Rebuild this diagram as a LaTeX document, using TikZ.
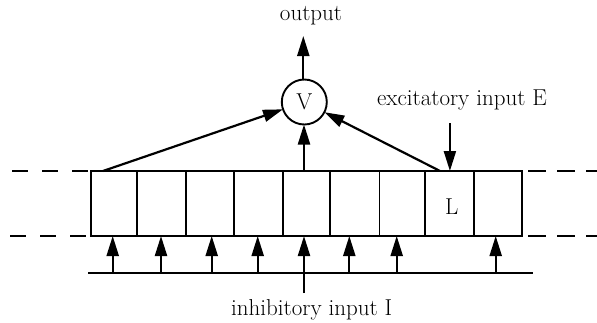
\documentclass[tikz,border=0pt]{standalone}
\usetikzlibrary{arrows.meta}
\begin{document}
\begin{tikzpicture}[x=1pt,y=-1pt,
  every node/.style={font=\fontsize{23}{27}\selectfont, inner sep=0pt, outer sep=0pt},
  cell/.style={draw, line width=1.9pt, minimum height=65pt},
  arr/.style={line width=2.2pt, -{Triangle[length=20pt,width=12pt]}},
  plain/.style={line width=1.9pt},
  guide/.style={line width=1.9pt, dash pattern=on 16pt off 14pt},
  guideR/.style={line width=1.9pt, dash pattern=on 18pt off 11pt}]
\useasboundingbox (0,0) rectangle (597,322);

% row of cells
\node[cell, minimum width=46.5pt] (c1) at (113.95,203.5) {};
\node[cell, minimum width=49.1pt] (c2) at (161.75,203.5) {};
\node[cell, minimum width=47.6pt] (c3) at (210.1,203.5) {};
\node[cell, minimum width=49.1pt] (c4) at (258.45,203.5) {};
\node[cell, minimum width=47.3pt] (c5) at (306.65,203.5) {};
\node[cell, minimum width=49.2pt] (c6) at (354.9,203.5) {};
\node[cell, minimum width=45.9pt] (c7) at (402.45,203.5) {};
\node[cell, minimum width=49pt]   (c8) at (449.9,203.5) {};
\node[cell, minimum width=47.6pt] (c9) at (498.2,203.5) {};
\node (L) at (451.7,206.5) {L};

% dashed continuation of the row
\coordinate (dl1) at (12,171);
\coordinate (dl2) at (10,236);
\coordinate (dr1) at (528,171);
\coordinate (dr2) at (528,236);
\coordinate (de1) at (597,171);
\coordinate (de2) at (597,236);
\draw[guide] (dl1) -- (c1.north west);
\draw[guide] (dl2) -- (c1.south west);
\draw[guideR] (dr1) -- (de1);
\draw[guideR] (dr2) -- (de2);

% summing unit
\node[draw, circle, line width=1.9pt, minimum size=45pt] (V) at (304.3,102) {V};
\coordinate (out) at (303.3,36);
\node (outl) at (311,16) {output};
\draw[arr] (V.north -| out) -- (out);

\coordinate (sl) at (103,171);
\coordinate (sm) at (304,171);
\coordinate (sr) at (440,171);
\draw[arr] (sl) -- (V);
\draw[arr] (sm) -- (sm |- V.south);
\draw[arr] (sr) -- (V);

% excitatory input
\coordinate (exc) at (449.9,123);
\node (excl) at (462,100) {excitatory input E};
\draw[arr] (exc) -- (c8.north);

% inhibitory input line
\coordinate (bl) at (88,273);
\coordinate (br) at (533,273);
\draw[plain] (bl) -- (br);
\coordinate (b1) at (112.7,273);
\coordinate (b2) at (161,273);
\coordinate (b3) at (211.7,273);
\coordinate (b4) at (257.7,273);
\coordinate (b6) at (349.3,273);
\coordinate (b7) at (396.7,273);
\coordinate (b9) at (495.7,273);
\coordinate (inh) at (304,293);
\draw[arr] (b1) -- (b1 |- c1.south);
\draw[arr] (b2) -- (b2 |- c2.south);
\draw[arr] (b3) -- (b3 |- c3.south);
\draw[arr] (b4) -- (b4 |- c4.south);
\draw[arr] (inh) -- (inh |- c5.south);
\draw[arr] (b6) -- (b6 |- c6.south);
\draw[arr] (b7) -- (b7 |- c7.south);
\draw[arr] (b9) -- (b9 |- c9.south);
\node (inhl) at (311.7,310) {inhibitory input I};
\end{tikzpicture}
\end{document}
